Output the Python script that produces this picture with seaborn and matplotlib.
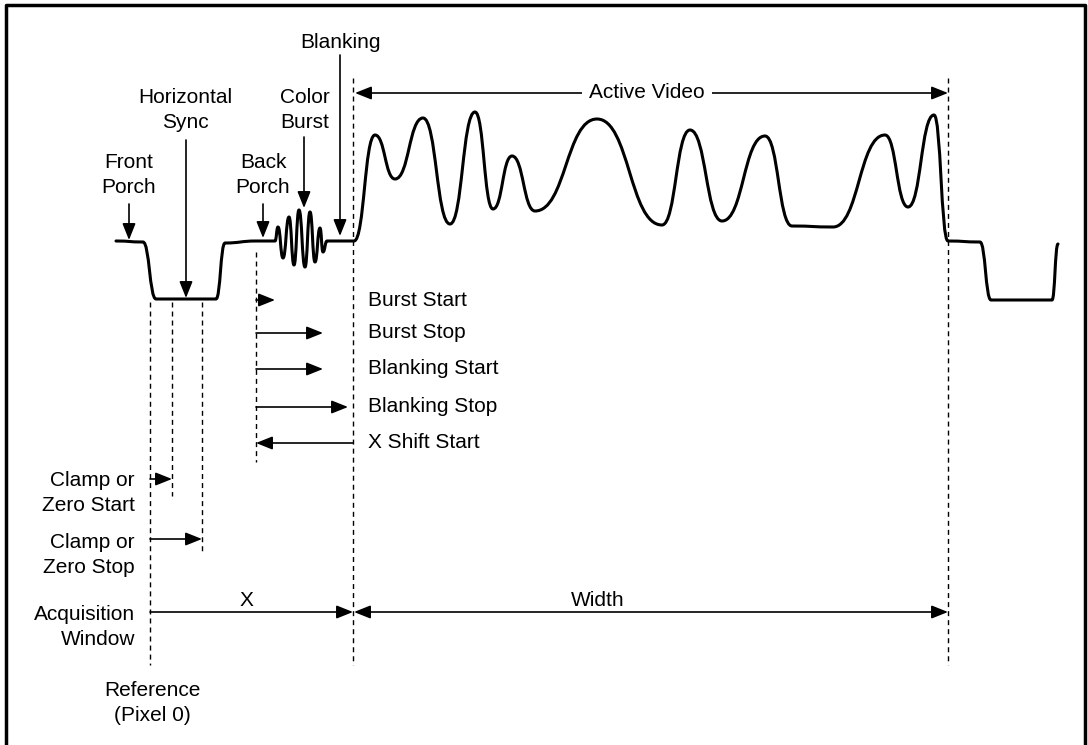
import matplotlib
matplotlib.use('Agg')
import matplotlib.pyplot as plt
from matplotlib.path import Path
from matplotlib.patches import PathPatch
import seaborn as sns

# waveform key points (pixel coords, y downwards): peaks, valleys and edge corners
wave_x = [116, 143, 156, 216, 225, 256, 275,
          278, 283, 289, 294, 299, 305, 310, 315, 320, 323, 327,
          354, 375, 395, 423, 450, 475, 493, 512, 535, 597, 662, 690,
          722, 765, 792, 833, 885, 908, 934, 948, 980, 991, 1052, 1058]
wave_y = [241, 242, 299, 299, 243, 241, 241,
          227, 258, 217, 265, 210, 267, 212, 262, 228, 252, 241,
          241, 135, 179, 118, 224, 112, 209, 156, 211, 119, 225, 130,
          221, 136, 226, 227, 135, 207, 115, 241, 242, 300, 300, 244]

# dashed reference lines
guide_x = [150, 172, 202, 256, 353, 948]
guide_top = [302, 302, 302, 252, 78, 78]
guide_bottom = [665, 496, 552, 462, 665, 665]

# timing arrows on the right
timing_labels = ['Burst Start', 'Burst Stop', 'Blanking Start', 'Blanking Stop', 'X Shift Start']
timing_y = [300, 333, 369, 407, 443]
timing_start = [256, 256, 256, 256, 353]
timing_end = [275, 323, 323, 348, 256]

# arrows on the left
left_labels = ['Clamp or\nZero Start', 'Clamp or\nZero Stop', 'Acquisition\nWindow']
left_y = [479, 539, 612]
left_label_y = [493, 555, 627]
left_end = [172, 202, 353]

# pointer labels above the waveform
pointer_labels = ['Front\nPorch', 'Horizontal\nSync', 'Back\nPorch', 'Color\nBurst', 'Blanking']
pointer_label_x = [129, 185, 263, 305, 340]
pointer_label_y = [175, 110, 175, 110, 42]
pointer_x = [129, 186, 263, 304, 340]
pointer_top = [204, 140, 204, 137, 55]
pointer_tip = [240, 298, 238, 208, 236]

sns.set_theme(style='white')
plt.rcParams['font.family'] = ['Liberation Sans', 'DejaVu Sans']
plt.rcParams['text.color'] = 'black'

fig = plt.figure(figsize=(10.88, 7.45), dpi=100)
ax = fig.add_axes([0, 0, 1, 1])
ax.set_xlim(0, 1088)
ax.set_ylim(745, 0)
ax.axis('off')

FS = 15
LS = 1.4
HEAD = '-|>,head_length=0.5,head_width=0.2'
DHEAD = '<|-|>,head_length=0.5,head_width=0.2'


def arrow(x0, y0, x1, y1, style=HEAD):
    ax.annotate('', xy=(x1, y1), xytext=(x0, y0),
                arrowprops=dict(arrowstyle=style, color='black', lw=1.2,
                                shrinkA=0, shrinkB=0, mutation_scale=20))


# frame
ax.plot([6, 6, 1085, 1085], [745, 5, 5, 745], color='black', lw=2.5, clip_on=False)

# waveform as smooth bezier segments with flat tangents at each key point
verts = [(wave_x[0], wave_y[0])]
codes = [Path.MOVETO]
for i in range(1, len(wave_x)):
    x0, y0, x1, y1 = wave_x[i - 1], wave_y[i - 1], wave_x[i], wave_y[i]
    dx = (x1 - x0) * 0.5
    verts += [(x0 + dx, y0), (x1 - dx, y1), (x1, y1)]
    codes += [Path.CURVE4] * 3
ax.add_patch(PathPatch(Path(verts, codes), fill=False, lw=2.2, ec='black',
                       capstyle='round', joinstyle='round'))

# dashed guides
for x, t, b in zip(guide_x, guide_top, guide_bottom):
    ax.plot([x, x], [t, b], color='black', lw=1.0, ls=(0, (3.6, 2.9)))

# pointers
for lab, lx, ly, px, pt, pb in zip(pointer_labels, pointer_label_x, pointer_label_y,
                                   pointer_x, pointer_top, pointer_tip):
    ax.text(lx, ly, lab, ha='center', va='center', fontsize=FS, linespacing=LS)
    arrow(px, pt, px, pb)

# top active video span
arrow(355, 93, 948, 93, DHEAD)
ax.text(647, 93, 'Active Video', ha='center', va='center', fontsize=FS,
        bbox=dict(fc='white', ec='none', pad=5))

# timing arrows
for lab, y, x0, x1 in zip(timing_labels, timing_y, timing_start, timing_end):
    arrow(x0, y, x1, y)
    ax.text(368, y, lab, ha='left', va='center', fontsize=FS)

# left arrows
for lab, y, ly, x1 in zip(left_labels, left_y, left_label_y, left_end):
    arrow(150, y, x1, y)
    ax.text(135, ly, lab, ha='right', va='center', fontsize=FS, linespacing=LS)

# width span
arrow(354, 612, 948, 612, DHEAD)
ax.text(246, 600, 'X', ha='center', va='center', fontsize=FS)
ax.text(598, 600, 'Width', ha='center', va='center', fontsize=FS)
ax.text(152, 703, 'Reference\n(Pixel 0)', ha='center', va='center', fontsize=FS, linespacing=LS)

fig.savefig('out.png', dpi=100)
